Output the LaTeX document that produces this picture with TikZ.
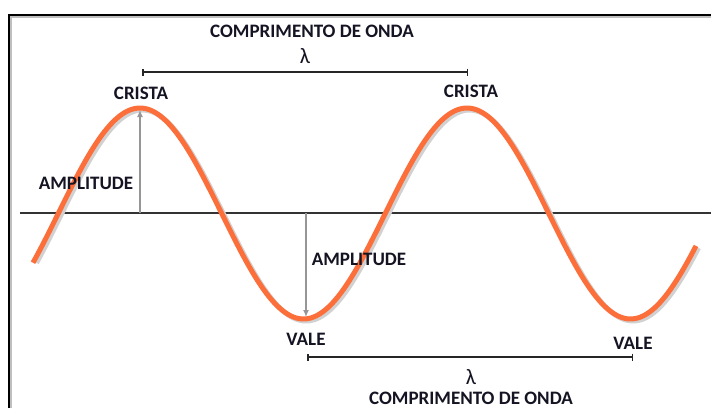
\documentclass[tikz,border=0pt]{standalone}
\usepackage{fontspec}
\setmainfont{Carlito}
\usetikzlibrary{arrows.meta}
\definecolor{waveorange}{RGB}{252,110,58}
\definecolor{arrowgray}{RGB}{150,150,150}
\definecolor{txt}{RGB}{20,20,35}
\begin{document}
\begin{tikzpicture}[x=1pt,y=-1pt,
  lbl/.style={font=\fontsize{19}{20}\selectfont\bfseries, text=txt, inner sep=0pt},
  lam/.style={font=\fontsize{22}{24}\selectfont, text=txt, inner sep=0pt},
  amparrow/.style={draw=arrowgray, line width=1.6pt, -{Latex[length=7pt,width=6pt]}},
  bracket/.style={draw=black!85, line width=1.5pt, {Bar[width=7pt]}-{Bar[width=7pt]}},
  wave/.style={draw=waveorange, line width=5pt, line cap=butt},
  waveshadow/.style={draw=black!18, line width=5pt, line cap=butt}
]
\useasboundingbox (0,0) rectangle (711,408);
\fill[white] (0,0) rectangle (711,408);
% frame
\draw[black!25, line width=2pt] (11,408) -- (11,17) -- (711,17);
\draw[black, line width=2pt] (9,408) -- (9,15) -- (711,15);
% axis
\coordinate (axL) at (20,213);
\coordinate (axR) at (711,213);
\draw[black!80, line width=1.1pt] (axL) -- (axR);
% wave
\draw[waveshadow] plot[domain=34:696, samples=240] ({\x+2.5}, {215.5-105.5*cos(1.100917*(\x-140))});
\draw[wave] plot[domain=33:696, samples=240] (\x, {213.5-105.5*cos(1.100917*(\x-140))});
% key points
\coordinate (crest1) at (140,110);
\coordinate (base1) at (140,213);
\coordinate (trough1) at (306,317);
\coordinate (base2) at (306,213);
\draw[amparrow] (base1) -- (crest1);
\draw[amparrow] (base2) -- (trough1);
% brackets
\coordinate (b1L) at (142,72);
\coordinate (b1R) at (468,72);
\draw[bracket] (b1L) -- (b1R);
\coordinate (b2L) at (307,357);
\coordinate (b2R) at (633,357);
\draw[bracket] (b2L) -- (b2R);
% labels
\node[lbl] (t1) at (312,31) {COMPRIMENTO DE ONDA};
\node[lam] (l1) at (305,56) {λ};
\node[lbl] (c1) at (141,93) {CRISTA};
\node[lbl] (c2) at (471,91) {CRISTA};
\node[lbl] (a1) at (86,183) {AMPLITUDE};
\node[lbl] (a2) at (359,259) {AMPLITUDE};
\node[lbl] (v1) at (306,339) {VALE};
\node[lbl] (v2) at (633,343) {VALE};
\node[lam] (l2) at (471,377) {λ};
\node[lbl] (t2) at (471,398) {COMPRIMENTO DE ONDA};
\end{tikzpicture}
\end{document}
